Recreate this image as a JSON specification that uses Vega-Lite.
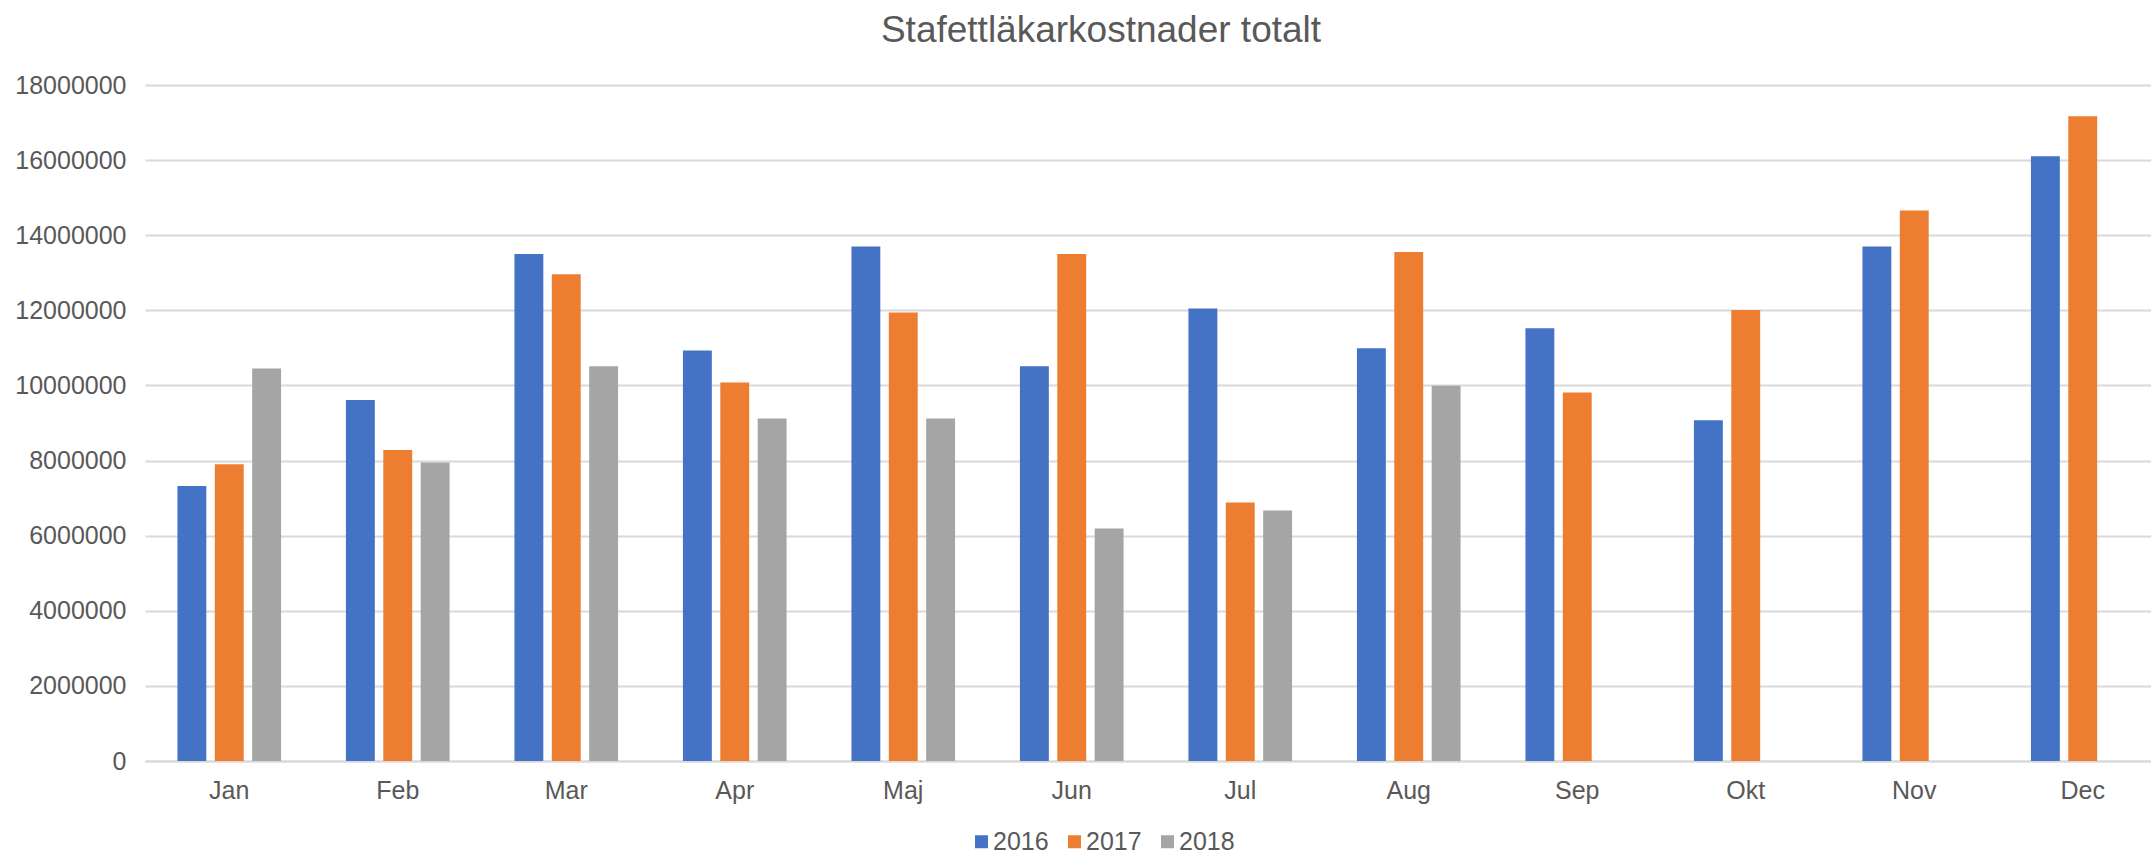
{
  "$schema": "https://vega.github.io/schema/vega-lite/v6.json",
  "autosize": {"type": "none"},
  "width": 2022,
  "height": 676,
  "padding": {"left": 145, "top": 85, "right": 10, "bottom": 93},
  "background": "white",
  "title": {
    "text": "Stafettläkarkostnader totalt",
    "anchor": "middle",
    "dx": -55,
    "offset": 23,
    "font": "Liberation Sans",
    "fontSize": 37,
    "fontWeight": "normal",
    "color": "#595959"
  },
  "data": {
    "values": [
      {"month": "Jan", "year": "2016", "cost": 7320000},
      {"month": "Jan", "year": "2017", "cost": 7900000},
      {"month": "Jan", "year": "2018", "cost": 10450000},
      {"month": "Feb", "year": "2016", "cost": 9610000},
      {"month": "Feb", "year": "2017", "cost": 8280000},
      {"month": "Feb", "year": "2018", "cost": 7950000},
      {"month": "Mar", "year": "2016", "cost": 13500000},
      {"month": "Mar", "year": "2017", "cost": 12960000},
      {"month": "Mar", "year": "2018", "cost": 10510000},
      {"month": "Apr", "year": "2016", "cost": 10930000},
      {"month": "Apr", "year": "2017", "cost": 10080000},
      {"month": "Apr", "year": "2018", "cost": 9120000},
      {"month": "Maj", "year": "2016", "cost": 13700000},
      {"month": "Maj", "year": "2017", "cost": 11940000},
      {"month": "Maj", "year": "2018", "cost": 9120000},
      {"month": "Jun", "year": "2016", "cost": 10510000},
      {"month": "Jun", "year": "2017", "cost": 13500000},
      {"month": "Jun", "year": "2018", "cost": 6190000},
      {"month": "Jul", "year": "2016", "cost": 12050000},
      {"month": "Jul", "year": "2017", "cost": 6880000},
      {"month": "Jul", "year": "2018", "cost": 6670000},
      {"month": "Aug", "year": "2016", "cost": 10990000},
      {"month": "Aug", "year": "2017", "cost": 13550000},
      {"month": "Aug", "year": "2018", "cost": 9990000},
      {"month": "Sep", "year": "2016", "cost": 11520000},
      {"month": "Sep", "year": "2017", "cost": 9810000},
      {"month": "Okt", "year": "2016", "cost": 9070000},
      {"month": "Okt", "year": "2017", "cost": 12010000},
      {"month": "Nov", "year": "2016", "cost": 13700000},
      {"month": "Nov", "year": "2017", "cost": 14660000},
      {"month": "Dec", "year": "2016", "cost": 16100000},
      {"month": "Dec", "year": "2017", "cost": 17170000}
    ]
  },
  "mark": {"type": "bar", "strokeWidth": 0},
  "encoding": {
    "x": {
      "field": "month",
      "type": "nominal",
      "sort": ["Jan", "Feb", "Mar", "Apr", "Maj", "Jun", "Jul", "Aug", "Sep", "Okt", "Nov", "Dec"],
      "scale": {"paddingInner": 0.385, "paddingOuter": 0.1925},
      "axis": {
        "title": null,
        "labelAngle": 0,
        "labelFont": "Liberation Sans",
        "labelFontSize": 25,
        "labelColor": "#595959",
        "labelPadding": 17,
        "ticks": false,
        "domainColor": "#d9d9d9",
        "domainWidth": 2,
        "grid": false
      }
    },
    "xOffset": {
      "field": "year",
      "type": "nominal",
      "scale": {"domain": ["2016", "2017", "2018"], "paddingInner": 0.227, "paddingOuter": 0}
    },
    "y": {
      "field": "cost",
      "type": "quantitative",
      "scale": {"domain": [0, 18000000], "nice": false},
      "axis": {
        "title": null,
        "values": [0, 2000000, 4000000, 6000000, 8000000, 10000000, 12000000, 14000000, 16000000, 18000000],
        "format": "d",
        "labelFont": "Liberation Sans",
        "labelFontSize": 25,
        "labelColor": "#595959",
        "labelPadding": 19,
        "ticks": false,
        "domain": false,
        "gridColor": "#d9d9d9",
        "gridWidth": 2
      }
    },
    "color": {
      "field": "year",
      "type": "nominal",
      "scale": {"domain": ["2016", "2017", "2018"], "range": ["#4472C4", "#ED7D31", "#A5A5A5"]},
      "legend": {
        "title": null,
        "orient": "none",
        "direction": "horizontal",
        "legendX": 824,
        "legendY": 744,
        "padding": 0,
        "symbolType": "square",
        "symbolSize": 169,
        "symbolStrokeWidth": 0,
        "labelFont": "Liberation Sans",
        "labelFontSize": 25,
        "labelColor": "#595959",
        "labelOffset": -1,
        "columnPadding": 13
      }
    }
  },
  "config": {"view": {"stroke": null}}
}
